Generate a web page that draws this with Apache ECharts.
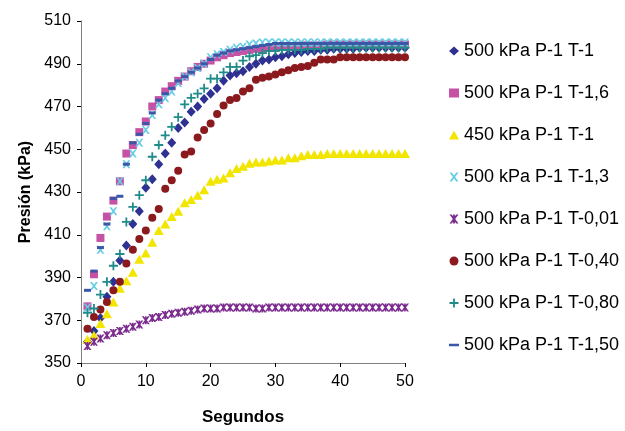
<!DOCTYPE html>
<html>
<head>
<meta charset="utf-8">
<script src="https://cdn.jsdelivr.net/npm/echarts@6/dist/echarts.min.js"></script>
<style>
html,body{margin:0;padding:0;background:#fff;}
#c{width:625px;height:431px;}
</style>
</head>
<body>
<div id="c"></div>
<script>
// Time (s)
var seconds = [1,2,3,4,5,6,7,8,9,10,11,12,13,14,15,16,17,18,19,20,21,22,23,24,25,26,27,28,29,30,31,32,33,34,35,36,37,38,39,40,41,42,43,44,45,46,47,48,49,50];

var seriesNames = ["500 kPa P-1 T-1","500 kPa P-1 T-1,6","450 kPa P-1 T-1","500 kPa P-1 T-1,3","500 kPa P-1 T-0,01","500 kPa P-1 T-0,40","500 kPa P-1 T-0,80","500 kPa P-1 T-1,50"];

var s_T1 = [360,365,371,381,388,398,405,415,421,432,436,443,448,453,460,462.5,467.5,470,473.5,476,478.5,482,484.5,485.5,486.5,488.5,490,491.5,492,493,493.5,494.5,495,495.5,496,496,496.5,496.5,497,497,497,497,497.5,497.5,497.5,497.5,497.5,497.5,497.5,497.5];
var s_T16 = [376.5,391.5,408.5,418.5,426,435,448,452,458,463,470,473,477,479.5,482,484,486.5,488.5,490,491.5,493,494,495,495.5,496,496.5,497,497,497.5,497.5,498,498,498,498.5,498.5,498.5,498.5,499,499,499,499,499,499,499,499,499,499,499,499,499];
var s_450 = [361,363,368.5,373,378.5,385,388.5,392.5,398.5,401.5,406.5,412,415,418.5,421,425,426.5,428.5,431,435,436,436.5,439,441,442,443.5,444,444,444.5,445,445,446,446,447,447.5,447.5,447.5,448,448,448,448,448,448,448,448,448,448,448,448,448];
var s_T13 = [376,386,403,414,421,435,443,448,453,459,466,471,474,477,481,484,486,488,490,493,494.5,495.5,496.5,497.5,498,499,499.5,500,500,500,500,500,500,500,500,500,500,500,500,500,500,500,500,500,500,500,500,500,500,500];
var s_T001 = [358,360,361.5,363,364,365,366,367,368,370,371,371.5,372.5,373,373.5,374,374.5,375,375.5,375.5,375.5,376,376,376,376,376,375.5,375.5,376,376,376,376,376,376,376,376,376,376,376,376,376,376,376,376,376,376,376,376,376,376];
var s_T040 = [366,371.5,375,378.5,384,388,396.5,403,408,412,418,422,431.5,435.5,440,447.5,449,455.5,459,462,466.5,470.5,473,474,477,478.5,482.5,483.5,484,485,486,487,488,488.5,489,490.5,492,492,492,493,493,493,493,493,493,493,493,493,493,493];
var s_T080 = [373.5,375.5,382,388,395.5,401,416,423,428.5,435.5,446.5,452,456.5,460.5,465,471,474,476,478.5,483,483,486,488.5,488.5,491.5,493.5,494,495,496,496,496.5,496.5,496.5,496.5,497,497,497,497.5,497.5,497.5,497.5,497.5,497.5,497.5,497.5,497.5,497.5,497.5,497.5,497.5];
var s_T150 = [384,393,404,415,427,428,443,453,457,462,467,473,476,478.5,482,484,486,488,490,492,494,495,496,496.5,497,497.5,498,498.5,499,499.5,499.5,499.5,499.5,499.5,499.5,499.5,499.5,499.5,499.5,499.5,499.5,499.5,499.5,499.5,499.5,499.5,499.5,499.5,499.5,499.5];

var xTicks = [0,10,20,30,40,50];
var yTicks = [350,370,390,410,430,450,470,490,510];

var allValues = [s_T1,s_T16,s_450,s_T13,s_T001,s_T040,s_T080,s_T150];

var X_PATH = 'path://M0,0L2.5,0L5,3.2L7.5,0L10,0L6.3,5L10,10L7.5,10L5,6.8L2.5,10L0,10L3.7,5Z';
var AST_PATH = 'path://M0,0L2.5,0L5,3.2L7.5,0L10,0L6.3,5L10,10L7.5,10L5,6.8L2.5,10L0,10L3.7,5Z M4,0L6,0L6,10L4,10Z';
var PLUS_PATH = 'path://M4,0L6,0L6,4L10,4L10,6L6,6L6,10L4,10L4,6L0,6L0,4L4,4Z';
var DASH_PATH = 'path://M0,4L10,4L10,6.5L0,6.5Z';

var styles = [
  {symbol:'diamond', size:[9,10], color:'#2E3092'},
  {symbol:'rect', size:8, color:'#C652A6'},
  {symbol:'triangle', size:[10,9], color:'#F2E500'},
  {symbol:X_PATH, size:8, color:'#66CCE4'},
  {symbol:AST_PATH, size:8, color:'#7B2C8E'},
  {symbol:'circle', size:8, color:'#8B1A1E'},
  {symbol:PLUS_PATH, size:9, color:'#1F8C8A'},
  {symbol:'rect', size:[7,3], color:'#3A57A8'}
];

var series = allValues.map(function(vals, i){
  return {
    name: seriesNames[i],
    type: 'scatter',
    symbol: styles[i].symbol,
    symbolSize: styles[i].size,
    itemStyle: {color: styles[i].color, opacity: 1},
    data: seconds.map(function(t, j){ return [t, vals[j]]; }),
    z: 2 + i
  };
});

var FONT = 'Liberation Sans, Arial, sans-serif';
var chart = echarts.init(document.getElementById('c'), null, {renderer:'canvas'});
chart.setOption({
  animation: false,
  backgroundColor: '#ffffff',
  textStyle: {fontFamily: FONT},
  grid: {left: 81, top: 21, right: 220, bottom: 64, containLabel: false},
  xAxis: {
    type: 'value', min: xTicks[0], max: xTicks[xTicks.length-1], interval: 10,
    name: 'Segundos', nameLocation: 'middle', nameGap: 46,
    nameTextStyle: {fontWeight: 'bold', fontSize: 17, color: '#000', fontFamily: FONT},
    axisLine: {lineStyle: {color: '#808080', width: 1}},
    axisTick: {show: true, length: 4, lineStyle: {color: '#000'}},
    axisLabel: {fontSize: 16, color: '#000', margin: 11, fontFamily: FONT},
    splitLine: {show: false}
  },
  yAxis: {
    type: 'value', min: yTicks[0], max: yTicks[yTicks.length-1], interval: 20,
    name: 'Presión (kPa)', nameLocation: 'middle', nameGap: 44, nameRotate: 90,
    nameTextStyle: {fontWeight: 'bold', fontSize: 16, color: '#000', fontFamily: FONT},
    axisLine: {show: true, lineStyle: {color: '#808080', width: 1}},
    axisTick: {show: true, length: 4, lineStyle: {color: '#000'}},
    axisLabel: {fontSize: 16, color: '#000', margin: 10, fontFamily: FONT},
    splitLine: {show: false}
  },
  legend: {
    orient: 'vertical', left: 444, top: 36,
    itemWidth: 10, itemHeight: 9, itemGap: 22,
    textStyle: {fontSize: 18, color: '#000', lineHeight: 20, fontFamily: FONT},
    data: seriesNames.map(function(n, i){
      return {name: n, icon: i === 7 ? DASH_PATH : styles[i].symbol};
    })
  },
  series: series
});
</script>
</body>
</html>
